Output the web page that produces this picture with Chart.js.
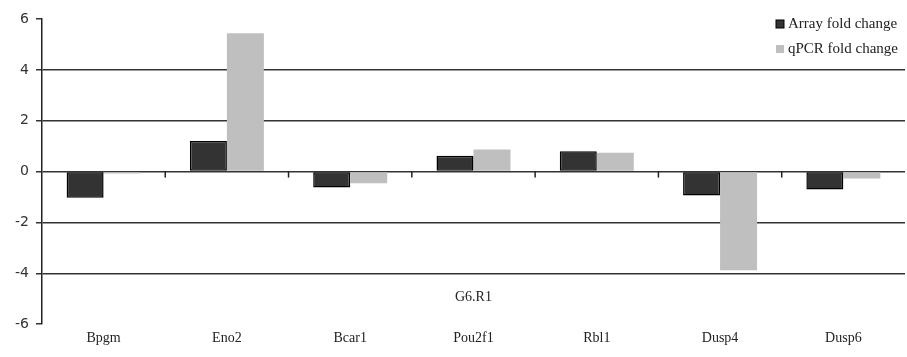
<!doctype html>
<html>
<head>
<title>G6.R1 fold change</title>
<script src="https://cdn.jsdelivr.net/npm/chart.js@4/dist/chart.umd.min.js"></script>
<style>
  body { margin: 0; background: #fff; }
  #wrap { width: 907px; height: 357px; }
</style>
</head>
<body>
<div id="wrap"><canvas id="canvas"></canvas></div>
<script>
var genes = ['Bpgm', 'Eno2', 'Bcar1', 'Pou2f1', 'Rbl1', 'Dusp4', 'Dusp6'];
var arrayFold = [-1.03, 1.2, -0.63, 0.62, 0.8, -0.94, -0.7];
var qpcrFold = [-0.07, 5.44, -0.46, 0.87, 0.74, -3.88, -0.27];
var yTicks = [-6, -4, -2, 0, 2, 4, 6];
var seriesNames = ['Array fold change', 'qPCR fold change'];
var groupLabel = 'G6.R1';

var serif = 'Liberation Serif';

// small tick marks on the zero line + the G6.R1 caption + legend
var extras = {
  id: 'extras',
  afterDatasetsDraw: function(chart) {
    var ctx = chart.ctx;
    var x = chart.scales.x, y = chart.scales.y;
    var y0 = y.getPixelForValue(0);
    ctx.save();
    ctx.strokeStyle = '#222';
    ctx.lineWidth = 1.5;
    for (var i = 0; i < genes.length - 1; i++) {
      var bx = (x.getPixelForValue(i) + x.getPixelForValue(i + 1)) / 2;
      ctx.beginPath();
      ctx.moveTo(bx, y0);
      ctx.lineTo(bx, y0 + 6);
      ctx.stroke();
    }
    ctx.fillStyle = '#222';
    ctx.font = '14px "' + serif + '"';
    ctx.textAlign = 'center';
    ctx.textBaseline = 'middle';
    ctx.fillText(groupLabel, (chart.chartArea.left + chart.chartArea.right) / 2, y.getPixelForValue(-4.95));

    // legend
    ctx.textAlign = 'left';
    ctx.font = '15px "' + serif + '"';
    var lx = chart.chartArea.right - 129;
    var rows = [chart.data.datasets[0], chart.data.datasets[1]];
    for (var j = 0; j < rows.length; j++) {
      var ly = 24 + j * 25;
      ctx.fillStyle = rows[j].backgroundColor;
      ctx.fillRect(lx, ly - 4, 8, 8);
      if (j === 0) { ctx.lineWidth = 1; ctx.strokeStyle = '#000'; ctx.strokeRect(lx, ly - 4, 8, 8); }
      ctx.fillStyle = '#222';
      ctx.fillText(rows[j].label, lx + 12, ly);
    }
    ctx.restore();
  }
};

var ctx = document.getElementById('canvas').getContext('2d');
window.myBar = new Chart(ctx, {
  type: 'bar',
  data: {
    labels: genes,
    datasets: [{
      label: seriesNames[0],
      data: arrayFold,
      backgroundColor: '#333333',
      borderColor: '#000000',
      borderWidth: 1.5,
      borderSkipped: false
    }, {
      label: seriesNames[1],
      data: qpcrFold,
      backgroundColor: '#bfbfbf',
      borderWidth: 0
    }]
  },
  options: {
    responsive: true,
    maintainAspectRatio: false,
    animation: false,
    layout: { padding: { left: 8, right: 2, top: 19, bottom: 4 } },
    plugins: {
      legend: { display: false },
      tooltip: { enabled: false }
    },
    datasets: { bar: { categoryPercentage: 0.6, barPercentage: 1.0 } },
    scales: {
      x: {
        grid: { display: false, drawTicks: false },
        border: { display: false },
        ticks: { color: '#222', padding: 6, font: { family: serif, size: 14 } }
      },
      y: {
        min: -6, max: 6,
        afterBuildTicks: function(axis) {
          axis.ticks = yTicks.map(function(v) { return { value: v }; });
        },
        grid: {
          color: function(c) {
            var v = c.tick ? c.tick.value : null;
            return (v === 6 || v === -6) ? 'rgba(0,0,0,0)' : '#333';
          },
          lineWidth: 1.5,
          tickColor: '#333',
          tickLength: 6
        },
        border: { display: true, color: '#222', width: 1.5 },
        ticks: { color: '#333', padding: 7, font: { family: 'DejaVu Sans', size: 14 } }
      }
    }
  },
  plugins: [extras]
});
</script>
</body>
</html>
